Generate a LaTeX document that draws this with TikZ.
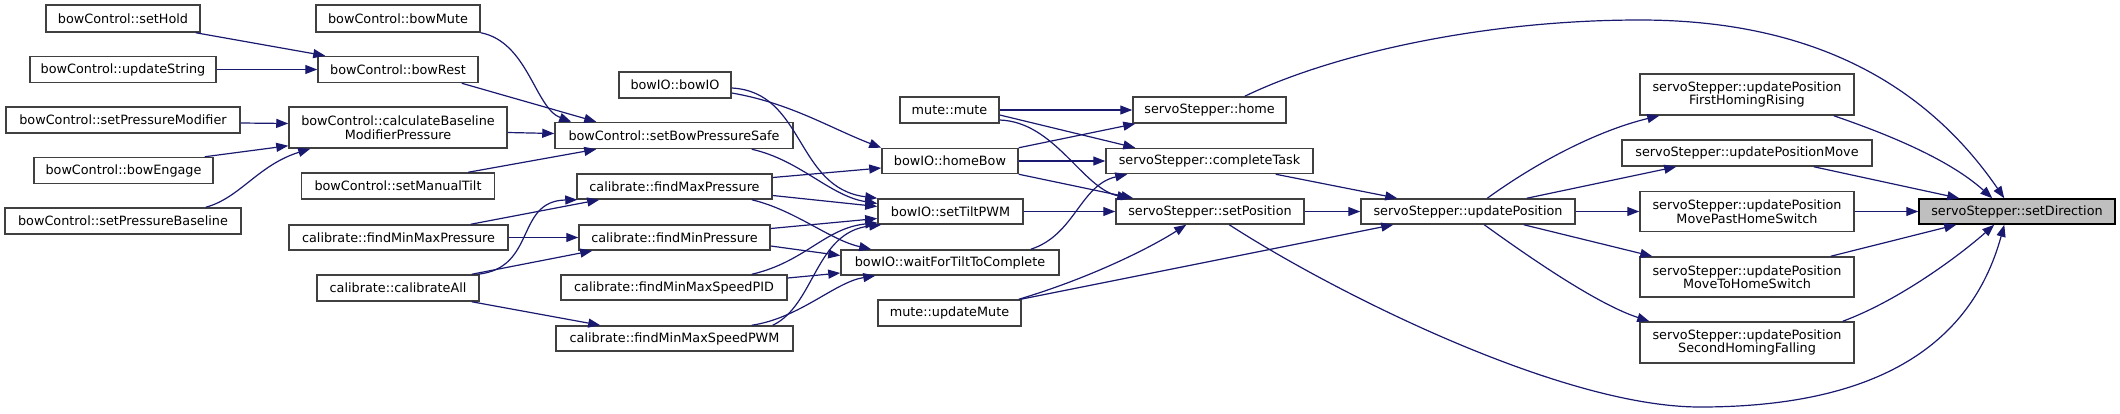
\documentclass[tikz,border=0pt]{standalone}
\usepackage{fontspec}
\setmainfont{DejaVu Sans}
\usetikzlibrary{arrows.meta,calc}
\definecolor{edgeblue}{HTML}{191970}
\definecolor{nodeborder}{HTML}{404040}
\definecolor{focusfill}{HTML}{BFBFBF}
\begin{document}
\begin{tikzpicture}[x=1pt,y=-1pt,
  nbox/.style={draw=nodeborder, line width=1.5pt, fill=white, inner sep=0pt, align=center,
    font=\fontsize{12.8}{13.5}\selectfont},
  focus/.style={nbox, draw=black, fill=focusfill},
  conn/.style={draw=edgeblue, line width=1.2pt, -{Triangle[length=12pt,width=9pt]}},
]
\useasboundingbox (0,0) rectangle (2120,413);

% ---- nodes ----
\node[nbox, minimum width=154, minimum height=27] (sHold) at (123,18.5) {bowControl::setHold};
\node[nbox, minimum width=186, minimum height=26] (uString) at (123,69.5) {bowControl::updateString};
\node[nbox, minimum width=234, minimum height=26] (sPMod) at (123,120) {bowControl::setPressureModifier};
\node[nbox, minimum width=179, minimum height=26] (bEng) at (123.5,170.5) {bowControl::bowEngage};
\node[nbox, minimum width=236, minimum height=26] (sPBase) at (123,221) {bowControl::setPressureBaseline};

\node[nbox, minimum width=164, minimum height=27] (bMute) at (398,18.5) {bowControl::bowMute};
\node[nbox, minimum width=160, minimum height=26] (bRest) at (398,69.5) {bowControl::bowRest};
\node[nbox, minimum width=218, minimum height=41] (cBMP) at (398,127.5) {bowControl::calculateBaseline\\ModifierPressure};
\node[nbox, minimum width=193, minimum height=26] (sMTilt) at (398,186) {bowControl::setManualTilt};
\node[nbox, minimum width=219, minimum height=25] (fMMP) at (398.5,237.5) {calibrate::findMinMaxPressure};
\node[nbox, minimum width=162, minimum height=26] (calAll) at (398,288) {calibrate::calibrateAll};

\node[nbox, minimum width=112, minimum height=26] (bIO) at (675,85) {bowIO::bowIO};
\node[nbox, minimum width=238, minimum height=26] (sBPS) at (674,135.5) {bowControl::setBowPressureSafe};
\node[nbox, minimum width=195, minimum height=25] (fMaxP) at (674.5,186.5) {calibrate::findMaxPressure};
\node[nbox, minimum width=191, minimum height=25] (fMinP) at (674.5,237.5) {calibrate::findMinPressure};
\node[nbox, minimum width=226, minimum height=25] (fPID) at (674,287.5) {calibrate::findMinMaxSpeedPID};
\node[nbox, minimum width=237, minimum height=25] (fPWM) at (674.5,338.5) {calibrate::findMinMaxSpeedPWM};

\node[nbox, minimum width=99, minimum height=26] (mMute) at (949.5,110) {mute::mute};
\node[nbox, minimum width=136, minimum height=25] (hBow) at (950,161) {bowIO::homeBow};
\node[nbox, minimum width=145, minimum height=25] (sTilt) at (950.5,211.5) {bowIO::setTiltPWM};
\node[nbox, minimum width=218, minimum height=25] (wTilt) at (950,262.5) {bowIO::waitForTiltToComplete};
\node[nbox, minimum width=143, minimum height=26] (uMute) at (949.5,313) {mute::updateMute};

\node[nbox, minimum width=153, minimum height=26] (sHome) at (1209.5,110) {servoStepper::home};
\node[nbox, minimum width=207, minimum height=25] (cTask) at (1209.5,161) {servoStepper::completeTask};
\node[nbox, minimum width=188, minimum height=25] (sPos) at (1210,211.5) {servoStepper::setPosition};

\node[nbox, minimum width=214, minimum height=25] (uPos) at (1468,211.5) {servoStepper::updatePosition};

\node[nbox, minimum width=214, minimum height=41] (uFHR) at (1747,94.5) {servoStepper::updatePosition\\FirstHomingRising};
\node[nbox, minimum width=250, minimum height=26] (uMove) at (1747,153) {servoStepper::updatePositionMove};
\node[nbox, minimum width=214, minimum height=40] (uPast) at (1747,211.5) {servoStepper::updatePosition\\MovePastHomeSwitch};
\node[nbox, minimum width=214, minimum height=40] (uTo) at (1747,277) {servoStepper::updatePosition\\MoveToHomeSwitch};
\node[nbox, minimum width=214, minimum height=41] (uSHF) at (1747,342.5) {servoStepper::updatePosition\\SecondHomingFalling};

\node[focus, minimum width=196, minimum height=25] (sDir) at (2017,211.5) {servoStepper::setDirection};

% ---- connectors ----
\draw[conn] ($(sHold.south east)+(-5,0)$) -- ($(bRest.north west)+(8,0)$);
\draw[conn] (uString.east) -- (bRest.west);
\draw[conn] (bMute.south east) .. controls (528,42) and (535,108) .. ($(sBPS.north west)+(17,0)$);
\draw[conn] ($(bRest.south east)+(-17,0)$) -- ($(sBPS.north west)+(42,0)$);
\draw[conn] ($(cBMP.east)+(0,5)$) -- ($(sBPS.west)+(0,-2)$);
\draw[conn] ($(sMTilt.north east)+(-27,0)$) -- ($(sBPS.south west)+(42,0)$);
\draw[conn] ($(sPMod.east)+(0,3)$) -- ($(cBMP.west)+(0,-4)$);
\draw[conn] ($(bEng.north east)+(-9,0)$) -- ($(cBMP.south west)+(0,-3)$);
\draw[conn] ($(sPBase.north east)+(-36,0)$) .. controls (240,198) and (258,165) .. ($(cBMP.south west)+(22,0)$);

\draw[conn] ($(fMMP.north east)+(-38,0)$) -- ($(fMaxP.south west)+(23,0)$);
\draw[conn] ($(calAll.north east)+(-2,0)$) .. controls (537,268) and (515,201) .. ($(fMaxP.south west)+(1,0)$);
\draw[conn] (fMMP.east) -- (fMinP.west);
\draw[conn] ($(calAll.north east)+(-8,0)$) -- ($(fMinP.south west)+(14,0)$);
\draw[conn] ($(calAll.south east)+(-8,0)$) -- ($(fPWM.north west)+(45,0)$);

\draw[conn] ($(bIO.east)+(0,8)$) .. controls (790,103) and (830,128) .. (hBow.north west);
\draw[conn] ($(bIO.east)+(0,3)$) .. controls (805,92) and (795,188) .. (sTilt.north west);
\draw[conn] ($(fMaxP.east)+(0,-9)$) -- ($(hBow.west)+(0,7)$);
\draw[conn] ($(sBPS.south east)+(-42,0)$) .. controls (800,160) and (830,196) .. ($(sTilt.west)+(0,-8)$);
\draw[conn] ($(fMaxP.east)+(0,9)$) -- ($(sTilt.west)+(0,-5)$);
\draw[conn] ($(fMaxP.south east)+(-21,0)$) .. controls (795,210) and (830,240) .. ($(wTilt.north west)+(31,0)$);
\draw[conn] ($(fMinP.east)+(0,-9)$) -- ($(sTilt.west)+(0,7)$);
\draw[conn] ($(fMinP.east)+(0,8.5)$) -- ($(wTilt.west)+(0,-7)$);
\draw[conn] ($(fPID.north east)+(-36,0)$) .. controls (805,262) and (825,228) .. ($(sTilt.south west)+(0,-2)$);
\draw[conn] ($(fPID.east)+(0,-9.5)$) -- ($(wTilt.west)+(0,10.5)$);
\draw[conn] ($(fPWM.north east)+(-21,0)$) .. controls (815,305) and (815,232) .. ($(sTilt.south west)+(4,0)$);
\draw[conn] ($(fPWM.north east)+(-42,0)$) .. controls (800,318) and (835,282) .. ($(wTilt.south west)+(35,0)$);

\draw[conn] (mMute.east) -- (sHome.west);
\draw[conn] ($(mMute.east)+(0,5)$) -- ($(cTask.north west)+(30,0)$);
\draw[conn] ($(mMute.east)+(0,10)$) .. controls (1055,122) and (1082,188) .. ($(sPos.north west)+(14,0)$);
\draw[conn] (hBow.north east) -- ($(sHome.south west)+(3,0)$);
\draw[conn] (hBow.east) -- (cTask.west);
\draw[conn] (hBow.south east) -- ($(sPos.north west)+(18,0)$);
\draw[conn] (sTilt.east) -- (sPos.west);
\draw[conn] ($(wTilt.north east)+(-29,0)$) .. controls (1075,235) and (1080,185) .. ($(cTask.south west)+(22,0)$);
\draw[conn] ($(uMute.north east)+(-3,0)$) .. controls (1090,278) and (1150,248) .. ($(sPos.south west)+(71,0)$);
\draw[conn] ($(uMute.north east)+(-1,0)$) -- ($(uPos.south west)+(33,0)$);

\draw[conn] (sPos.east) -- (uPos.west);
\draw[conn] ($(cTask.south east)+(-38,0)$) -- ($(uPos.north west)+(37,0)$);

\draw[conn] ($(sHome.north east)+(-42,0)$) .. controls (1330,55) and (1480,20) .. (1640,20)
   .. controls (1820,20) and (1930,90) .. ($(sDir.north west)+(86,0)$);
\draw[conn] ($(uFHR.south east)+(-21,0)$) .. controls (1890,135) and (1950,160) .. ($(sDir.north west)+(74,0)$);
\draw[conn] ($(uMove.south east)+(-59,0)$) -- ($(sDir.north west)+(41,0)$);
\draw[conn] (uPast.east) -- (sDir.west);
\draw[conn] ($(uTo.north east)+(-24,0)$) -- ($(sDir.south west)+(38,0)$);
\draw[conn] ($(uSHF.north east)+(-12,0)$) .. controls (1900,300) and (1960,255) .. ($(sDir.south west)+(76,0)$);
\draw[conn] ($(sPos.south west)+(114,0)$) .. controls (1330,290) and (1560,407) .. (1700,407)
   .. controls (1870,407) and (1970,350) .. ($(sDir.south west)+(86,0)$);

\draw[conn] ($(uPos.north west)+(127,0)$) .. controls (1540,160) and (1600,130) .. ($(uFHR.south west)+(20,0)$);
\draw[conn] ($(uPos.north east)+(-49,0)$) -- ($(uMove.south west)+(55,0)$);
\draw[conn] (uPos.east) -- (uPast.west);
\draw[conn] ($(uPos.south east)+(-52,0)$) -- ($(uTo.north west)+(13,0)$);
\draw[conn] ($(uPos.south west)+(124,0)$) .. controls (1540,265) and (1600,305) .. ($(uSHF.north west)+(10,0)$);
\end{tikzpicture}
\end{document}
